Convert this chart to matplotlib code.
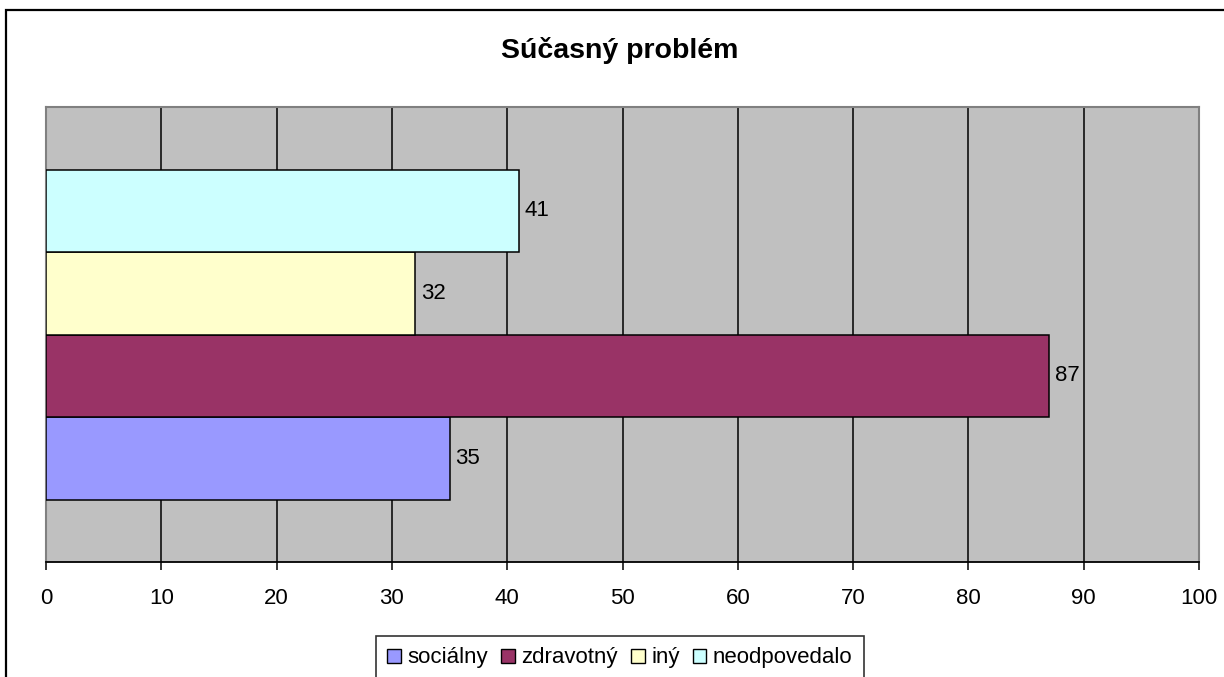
import matplotlib.pyplot as plt
from matplotlib.patches import Patch, Rectangle

# Data
series = ["sociálny", "zdravotný", "iný", "neodpovedalo"]
values = [35, 87, 32, 41]
colors = ["#9999FF", "#993366", "#FFFFCC", "#CCFFFF"]
x_ticks = list(range(0, 101, 10))
title = "Súčasný problém"

plt.rcParams['font.family'] = ['Liberation Sans', 'DejaVu Sans']

fig = plt.figure(figsize=(12.24, 6.77), dpi=100)
W, H = 1224, 677

# outer chart border (extends past right/bottom edge like the original)
fig.patches.append(Rectangle((6 / W, -0.1), 1.2, 1 - 10 / H + 0.1, transform=fig.transFigure,
                             fill=False, edgecolor='black', linewidth=1.6, zorder=0))

ax = fig.add_axes([46 / W, (H - 562) / H, 1153 / W, 455 / H])
ax.set_facecolor('#C0C0C0')

bar_h = 82.5 / 455
offsets = [-1.5, -0.5, 0.5, 1.5]
for name, val, col, off in zip(series, values, colors, offsets):
    ax.barh(off * bar_h, val, height=bar_h, color=col, edgecolor='black', linewidth=1.1, zorder=3)
    ax.text(val + 0.5, off * bar_h, str(val), va='center', ha='left', fontsize=16, zorder=4)

ax.set_xlim(0, 100)
ax.set_ylim(-0.5, 0.5)
ax.set_xticks(x_ticks)
ax.set_yticks([])
ax.grid(axis='x', color='black', linewidth=1.1, zorder=1)
ax.tick_params(axis='x', direction='out', length=6, width=1.1, pad=13, labelsize=16)

for side in ['top', 'right', 'left']:
    ax.spines[side].set_color('#808080')
    ax.spines[side].set_linewidth(1.5)
ax.spines['bottom'].set_color('black')
ax.spines['bottom'].set_linewidth(1.3)

fig.text(620 / W, 1 - 50 / H, title, ha='center', va='center', fontsize=20.5, fontweight='bold')

handles = [Patch(facecolor=c, edgecolor='black', linewidth=1.0) for c in colors]
leg = fig.legend(handles, series, loc='center', bbox_to_anchor=(620 / W, 1 - 658 / H),
                 ncol=4, fontsize=16, frameon=True, fancybox=False,
                 handlelength=0.6, handleheight=0.6, handletextpad=0.3,
                 columnspacing=0.6, borderpad=0.5, borderaxespad=0)
leg.get_frame().set_edgecolor('black')
leg.get_frame().set_linewidth(1.2)

plt.savefig('out.png', dpi=100)
